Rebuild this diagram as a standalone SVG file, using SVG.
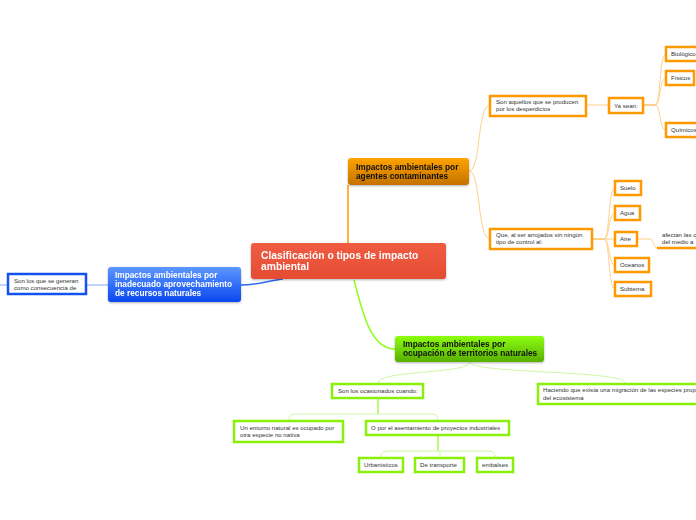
<svg xmlns="http://www.w3.org/2000/svg" width="696" height="520" viewBox="0 0 696 520">
<defs>
<linearGradient id="gRed" x1="0" y1="0" x2="0" y2="1"><stop offset="0" stop-color="#F05C42"/><stop offset="1" stop-color="#E44C33"/></linearGradient>
<linearGradient id="gOr" x1="0" y1="0" x2="0" y2="1"><stop offset="0" stop-color="#FFA300"/><stop offset="1" stop-color="#C47200"/></linearGradient>
<linearGradient id="gBl" x1="0" y1="0" x2="0" y2="1"><stop offset="0" stop-color="#5C97FF"/><stop offset="1" stop-color="#0A48F0"/></linearGradient>
<linearGradient id="gGr" x1="0" y1="0" x2="0" y2="1"><stop offset="0" stop-color="#8CFF10"/><stop offset="1" stop-color="#58AE00"/></linearGradient>
<filter id="sh" x="-10%" y="-20%" width="120%" height="150%"><feDropShadow dx="0" dy="1" stdDeviation="1" flood-color="#000" flood-opacity="0.3"/></filter>
</defs>
<style>
.t{font-family:"Liberation Sans",Arial,sans-serif;font-size:6.1px;fill:#333}
.h{font-family:"Liberation Sans",Arial,sans-serif;font-size:8.3px;font-weight:bold}
.c{font-family:"Liberation Sans",Arial,sans-serif;font-size:10.3px;font-weight:bold;fill:#fff}
.bo{fill:#fff;stroke:#FF9900;stroke-width:2.5}
.bg{fill:#fff;stroke:#88F00A;stroke-width:2.5}
.bb{fill:#fff;stroke:#1452EE;stroke-width:2.5}
.lo{fill:none;stroke:#FFD08C;stroke-width:1}
.lg{fill:none;stroke:#CDF7A6;stroke-width:1}
</style>
<g id="connectors">
<path d="M348,243 L348,185" fill="none" stroke="#FF9A00" stroke-width="1.5"/>
<path d="M241,285 C258,285 266,281 283,279" fill="none" stroke="#2D6BF0" stroke-width="1.5"/>
<path d="M354,280 C362,310 370,349 395,349" fill="none" stroke="#8CFF1A" stroke-width="1.5"/>
<path d="M86,285 L108,285 M0,285 L8,285" fill="none" stroke="#7FA8FF" stroke-width="1"/>
<path class="lo" d="M469,171 C481,171 477,105 490,105 M469,171 C481,171 477,239 490,239"/>
<path class="lo" d="M586,105 L609,105"/>
<path d="M643,105 L655,105 M592,239 L604,239" fill="none" stroke="#FFA11A" stroke-width="1.2"/>
<path class="lo" d="M655,105 C661,105 659,54 666,54 M655,105 C661,105 659,78 666,78 M655,105 C661,105 659,130 666,130"/>
<path class="lo" d="M604,239 C610,239 608,188 615,188 M604,239 C610,239 608,213 615,213 M604,239 L615,239 M604,239 C610,239 608,265 615,265 M604,239 C610,239 608,289 615,289"/>
<path class="lo" d="M637,239 L649,239 C655,239 652,248 658,248"/>
<path d="M657,248 L696,248" fill="none" stroke="#FF9900" stroke-width="2.5"/>
<path class="lg" d="M470,362 C470,374 378,370 378,383 M470,362 C470,374 625,370 625,383"/>
<path d="M378,398 L378,414 M438,436 L438,451" fill="none" stroke="#9CF23A" stroke-width="1.3"/>
<path class="lg" d="M289,420 Q289,414 296,414 L431,414 Q438,414 438,420"/>
<path class="lg" d="M381,457 Q381,451 388,451 L488,451 Q495,451 495,457 M440,451 L440,457"/>
</g>
<g id="central" filter="url(#sh)"><rect x="251" y="243" width="195" height="36" rx="3" fill="url(#gRed)"/><text class="c" x="261" y="259">Clasificación o tipos de impacto</text><text class="c" x="261" y="270">ambiental</text></g>
<g id="agentes" filter="url(#sh)"><rect x="348" y="158" width="121" height="27" rx="3" fill="url(#gOr)"/><text class="h" x="356" y="170" fill="#111">Impactos ambientales por</text><text class="h" x="356" y="179" fill="#111">agentes contaminantes</text></g>
<g id="inadecuado" filter="url(#sh)"><rect x="108" y="267" width="133" height="35" rx="3" fill="url(#gBl)"/><text class="h" x="115" y="278" fill="#fff">Impactos ambientales por</text><text class="h" x="115" y="287" fill="#fff">inadecuado aprovechamiento</text><text class="h" x="115" y="296" fill="#fff">de recursos naturales</text></g>
<g id="ocupacion" filter="url(#sh)"><rect x="395" y="336" width="149" height="26" rx="3" fill="url(#gGr)"/><text class="h" x="403" y="347" fill="#111">Impactos ambientales por</text><text class="h" x="403" y="356" fill="#111">ocupación de territorios naturales</text></g>
<g id="consecuencia"><rect class="bb" x="8" y="274" width="78" height="20"/><text class="t" x="14" y="283">Son los que se generan</text><text class="t" x="14" y="290">como consecuencia de</text></g>
<g id="aquellos"><rect class="bo" x="490" y="96" width="96" height="20"/><text class="t" x="496" y="104">Son aquellos que se producen</text><text class="t" x="496" y="111">por los desperdicios</text></g>
<g id="yasean"><rect class="bo" x="609" y="98" width="34" height="15"/><text class="t" x="614" y="107.5">Ya sean:</text></g>
<g id="biologico"><rect class="bo" x="666" y="47" width="34" height="14"/><text class="t" x="671" y="56">Biológico</text></g>
<g id="fisicos"><rect class="bo" x="666" y="71" width="28" height="14"/><text class="t" x="671" y="80">Físicos</text></g>
<g id="quimicos"><rect class="bo" x="666" y="123" width="34" height="14"/><text class="t" x="671" y="132">Químicos</text></g>
<g id="queal"><rect class="bo" x="490" y="229" width="102" height="20"/><text class="t" x="496" y="237">Que, al ser arrojados sin ningún</text><text class="t" x="496" y="244">tipo de control al:</text></g>
<g id="suelo"><rect class="bo" x="615" y="181" width="26" height="14"/><text class="t" x="620" y="190">Suelo</text></g>
<g id="agua"><rect class="bo" x="615" y="206" width="25" height="14"/><text class="t" x="620" y="215">Agua</text></g>
<g id="aire"><rect class="bo" x="615" y="232" width="22" height="14"/><text class="t" x="620" y="241">Aire</text></g>
<g id="oceanos"><rect class="bo" x="615" y="258" width="34" height="14"/><text class="t" x="620" y="267">Oceanos</text></g>
<g id="subtema"><rect class="bo" x="615" y="282" width="36" height="14"/><text class="t" x="620" y="291">Subtema</text></g>
<g id="afectan"><text class="t" x="662" y="237">afectan las c</text><text class="t" x="662" y="244">del medio a</text></g>
<g id="ocasionados"><rect class="bg" x="332" y="384" width="91" height="14"/><text class="t" x="338" y="393">Son los ocasionados cuando:</text></g>
<g id="migracion"><rect class="bg" x="538" y="384" width="162" height="20"/><text class="t" x="543" y="392">Haciendo que exista una migración de las especies prop</text><text class="t" x="543" y="399.5">del ecosistema</text></g>
<g id="entorno"><rect class="bg" x="234" y="421" width="109" height="21"/><text class="t" x="240" y="429.5">Un entorno natural es ocupado por</text><text class="t" x="240" y="437">otra especie no nativa</text></g>
<g id="asentamiento"><rect class="bg" x="366" y="421" width="143" height="14"/><text class="t" x="371" y="430">O por el asentamiento de proyectos industriales</text></g>
<g id="urbanisticos"><rect class="bg" x="359" y="458" width="44" height="14"/><text class="t" x="364" y="467">Urbanísticos</text></g>
<g id="transporte"><rect class="bg" x="415" y="458" width="49" height="14"/><text class="t" x="420" y="467">De transporte</text></g>
<g id="embalses"><rect class="bg" x="477" y="458" width="36" height="14"/><text class="t" x="482" y="467">embalses</text></g>
</svg>
